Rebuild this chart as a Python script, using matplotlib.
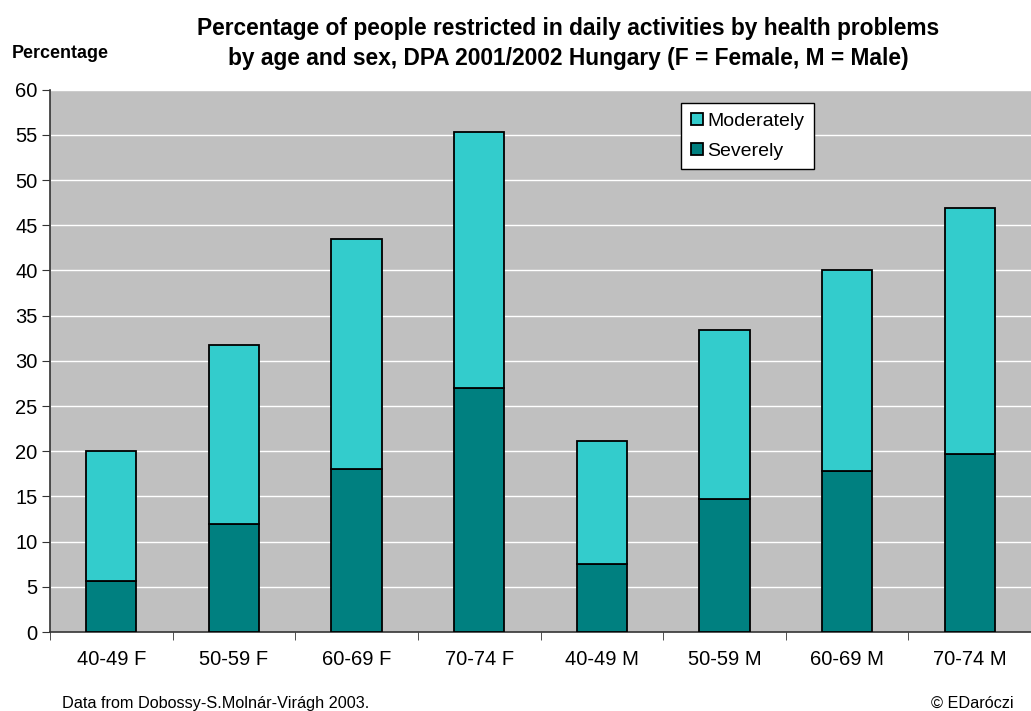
import matplotlib
matplotlib.use("Agg")
import matplotlib.pyplot as plt
import numpy as np

plt.rcParams["font.family"] = ["Liberation Sans", "DejaVu Sans"]

CATEGORIES = ["40-49 F", "50-59 F", "60-69 F", "70-74 F",
              "40-49 M", "50-59 M", "60-69 M", "70-74 M"]
SEVERELY = [5.6, 11.9, 18.0, 27.0, 7.5, 14.7, 17.8, 19.7]
TOTAL = [20.0, 31.8, 43.5, 55.3, 21.1, 33.4, 40.0, 46.9]
MODERATELY = [t - s for t, s in zip(TOTAL, SEVERELY)]

SEVERE_COLOR = "#008080"
MODERATE_COLOR = "#33CCCC"


def main() -> None:
    fig = plt.figure(figsize=(10.31, 7.11), dpi=100)
    ax = fig.add_axes([0.0485, 0.111, 0.9515, 0.763])
    ax.set_facecolor("#C0C0C0")

    x = np.arange(len(CATEGORIES))
    ax.bar(x, SEVERELY, width=0.41, color=SEVERE_COLOR, edgecolor="black",
           linewidth=1.3, label="Severely", zorder=3)
    ax.bar(x, MODERATELY, bottom=SEVERELY, width=0.41, color=MODERATE_COLOR,
           edgecolor="black", linewidth=1.3, label="Moderately", zorder=3)

    ax.set_xlim(-0.5, len(CATEGORIES) - 0.5)
    ax.set_ylim(0, 60)
    ax.set_yticks(range(0, 61, 5))
    ax.yaxis.grid(True, color="white", linewidth=1.0, zorder=0)
    ax.set_axisbelow(True)

    # category labels centred on bars, tick marks between categories
    ax.set_xticks(x)
    ax.set_xticklabels(CATEGORIES, fontsize=14.5)
    ax.tick_params(axis="x", which="major", length=0, pad=13)
    ax.set_xticks(np.arange(len(CATEGORIES) + 1) - 0.5, minor=True)
    ax.tick_params(axis="x", which="minor", length=6, direction="out", color="#333333")
    ax.tick_params(axis="y", labelsize=14.5, length=6, pad=3, direction="out", color="#333333")

    for side in ["top", "right"]:
        ax.spines[side].set_visible(False)
    ax.spines["left"].set_color("#333333")
    ax.spines["bottom"].set_color("#333333")
    ax.spines["left"].set_linewidth(1.2)
    ax.spines["bottom"].set_linewidth(1.2)

    handles, labels = ax.get_legend_handles_labels()
    leg = ax.legend(handles[::-1], labels[::-1], loc="upper left",
                    bbox_to_anchor=(0.6435, 0.975), fontsize=14, frameon=True,
                    fancybox=False, edgecolor="black", framealpha=1.0,
                    handlelength=0.6, handleheight=0.6, handletextpad=0.25,
                    borderpad=0.5, labelspacing=0.65, borderaxespad=0.0)
    leg.get_frame().set_linewidth(1.0)

    fig.text(0.551, 0.960, "Percentage of people restricted in daily activities by health problems",
             ha="center", va="center", fontsize=16.4, fontweight="bold")
    fig.text(0.551, 0.918, "by age and sex, DPA 2001/2002 Hungary (F = Female, M = Male)",
             ha="center", va="center", fontsize=16.4, fontweight="bold")
    fig.text(0.0115, 0.925, "Percentage", ha="left", va="center", fontsize=12.9, fontweight="bold")

    fig.text(0.0605, 0.0105, "Data from Dobossy-S.Molnár-Virágh 2003.", ha="left",
             va="center", fontsize=11.7)
    fig.text(0.983, 0.0105, "© EDaróczi", ha="right", va="center", fontsize=11.7)

    fig.savefig("out.png", dpi=100)
    plt.close(fig)


if __name__ == "__main__":
    main()
